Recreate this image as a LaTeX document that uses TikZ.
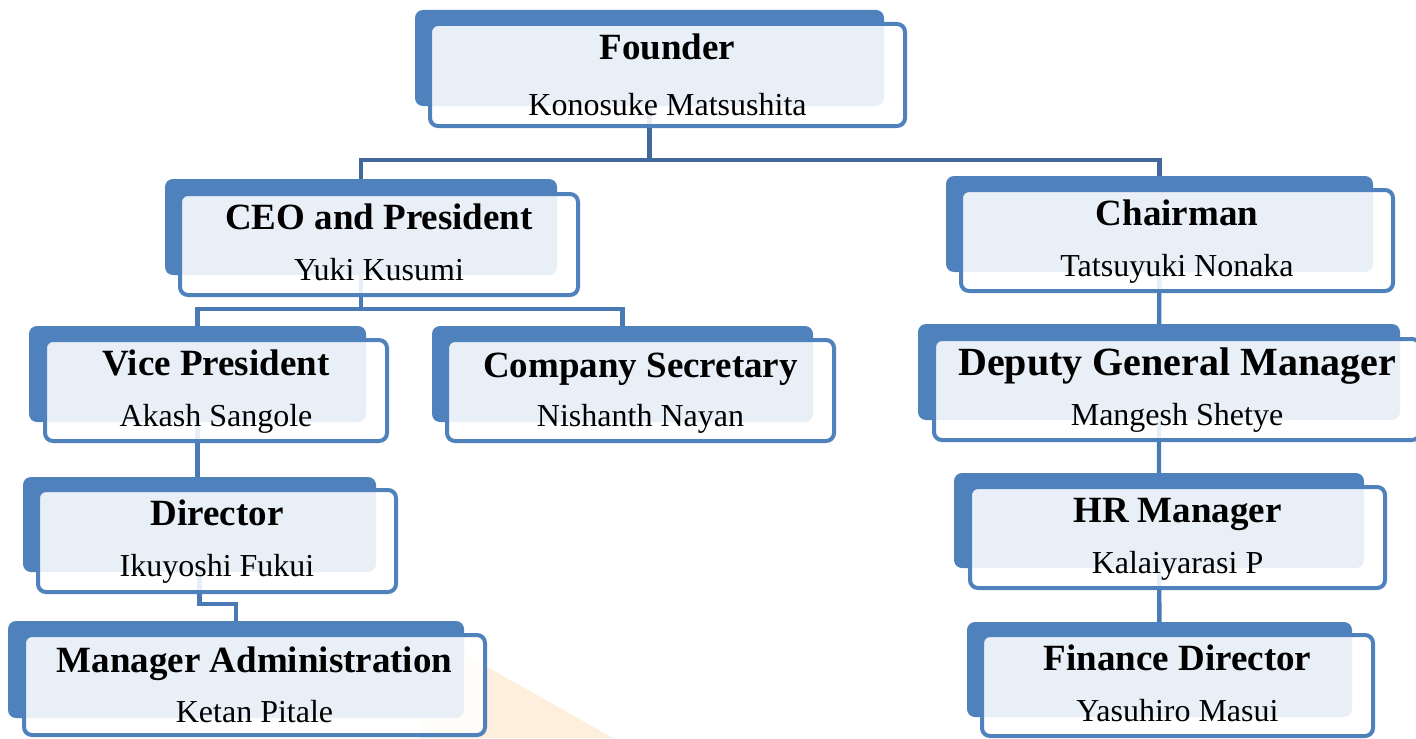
\documentclass[tikz,border=0pt]{standalone}
\usepackage{fontspec}
\setmainfont{Liberation Serif}
\usetikzlibrary{fit,backgrounds}
\definecolor{boxblue}{HTML}{4F81BD}
\definecolor{linkblue}{HTML}{4A7AB4}
\definecolor{topblue}{HTML}{41699B}
\definecolor{wmark}{HTML}{FEEFDC}
\tikzset{>=stealth,
  backbox/.style={fill=boxblue, rounded corners=4pt, inner sep=0pt},
  frontbox/.style={draw=boxblue, line width=2pt, fill=white, fill opacity=0.88, rounded corners=4pt, inner sep=0pt},
  ttl/.style={anchor=base, inner sep=0pt, font=\fontsize{18.5}{22}\selectfont\bfseries},
  who/.style={anchor=base, inner sep=0pt, font=\fontsize{16}{19}\selectfont},
  link/.style={draw=linkblue, line width=2.2pt}
}

\begin{document}
\begin{tikzpicture}[x=0.5pt, y=-0.5pt]
\useasboundingbox (0,0) rectangle (1416,738);
% top
\node[backbox, fit={(415,10) (884,106)}] (fnd) {};
\node[frontbox, fit={(430,24) (905,126)}] (fndF) {};
\node[ttl] (fndT) at ([yshift=-19pt]fndF.north) {Founder};
\node[who] (fndN) at ([yshift=-46.5pt]fndF.north) {Konosuke Matsushita};
% left branch
\node[backbox, fit={(165,179) (557,275)}] (ceo) {};
\node[frontbox, fit={(180,194) (578,295)}] (ceoF) {};
\node[ttl] (ceoT) at ([yshift=-18.5pt]ceoF.north) {CEO and President};
\node[who] (ceoN) at ([yshift=-44pt]ceoF.north) {Yuki Kusumi};
\node[backbox, fit={(29,326) (366,422)}] (vp) {};
\node[frontbox, fit={(45,340) (387,441)}] (vpF) {};
\node[ttl] (vpT) at ([yshift=-18.5pt]vpF.north) {Vice President};
\node[who] (vpN) at ([yshift=-44pt]vpF.north) {Akash Sangole};
\node[backbox, fit={(432,326) (813,422)}] (csec) {};
\node[frontbox, fit={(447,340) (834,441)}] (csecF) {};
\node[ttl] (csecT) at ([yshift=-19.5pt]csecF.north) {Company Secretary};
\node[who] (csecN) at ([yshift=-44pt]csecF.north) {Nishanth Nayan};
\node[backbox, fit={(23,477) (376,572)}] (dir) {};
\node[frontbox, fit={(38,490) (396,592)}] (dirF) {};
\node[ttl] (dirT) at ([yshift=-18.5pt]dirF.north) {Director};
\node[who] (dirN) at ([yshift=-44pt]dirF.north) {Ikuyoshi Fukui};
\node[backbox, fit={(8,621) (464,718)}] (mad) {};
\node[frontbox, fit={(24,635) (485,735)}] (madF) {};
\node[ttl] (madT) at ([yshift=-19.5pt]madF.north) {Manager Administration};
\node[who] (madN) at ([yshift=-44.5pt]madF.north) {Ketan Pitale};
% right branch
\node[backbox, fit={(946,176) (1373,272)}] (chr) {};
\node[frontbox, fit={(961,190) (1393,291)}] (chrF) {};
\node[ttl] (chrT) at ([yshift=-18.5pt]chrF.north) {Chairman};
\node[who] (chrN) at ([yshift=-44pt]chrF.north) {Tatsuyuki Nonaka};
\node[backbox, fit={(918,324) (1400,420)}] (dgm) {};
\node[frontbox, fit={(934,339) (1420,440)}] (dgmF) {};
\node[ttl, font=\fontsize{20}{24}\selectfont\bfseries] (dgmT) at ([yshift=-19pt]dgmF.north) {Deputy General Manager};
\node[who] (dgmN) at ([yshift=-44pt]dgmF.north) {Mangesh Shetye};
\node[backbox, fit={(954,473) (1364,568)}] (hr) {};
\node[frontbox, fit={(970,487) (1385,588)}] (hrF) {};
\node[ttl] (hrT) at ([yshift=-18.5pt]hrF.north) {HR Manager};
\node[who] (hrN) at ([yshift=-44pt]hrF.north) {Kalaiyarasi P};
\node[backbox, fit={(967,622) (1352,717)}] (fin) {};
\node[frontbox, fit={(982,635) (1373,736)}] (finF) {};
\node[ttl] (finT) at ([yshift=-18.5pt]finF.north) {Finance Director};
\node[who] (finN) at ([yshift=-44pt]finF.north) {Yasuhiro Masui};
% connectors under the boxes
\begin{pgfonlayer}{background}
\fill[wmark] (420,629) -- (613,738) -- (420,738) -- cycle;
\draw[link, draw=topblue] (fnd.center) -- (fnd.center |- 0,160) -| (ceo.center);
\draw[link, draw=topblue] (fnd.center |- 0,160) -| (chr.center);
\draw[link] (ceo.center) -- (ceo.center |- 0,309) -| (vp.center);
\draw[link] (ceo.center |- 0,309) -| (csec.center);
\draw[link] (vp.center) |- (dir.center);
\draw[link] (dir.center) -- (dir.center |- 0,604) -| (mad.center);
\draw[link] (chr.center) -- (dgm.center) -- (hr.center) -- (fin.center);
\end{pgfonlayer}
\end{tikzpicture}
\end{document}
